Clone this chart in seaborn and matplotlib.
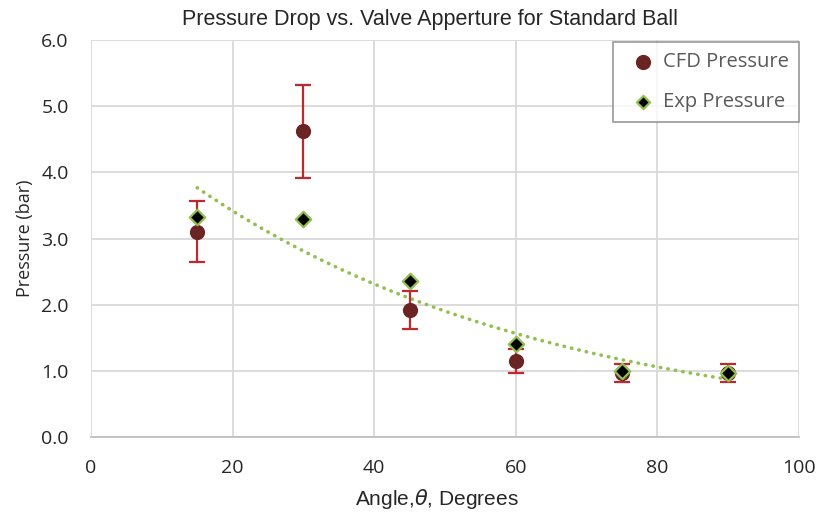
import numpy as np
import pandas as pd
import matplotlib
matplotlib.use("Agg")
import matplotlib.pyplot as plt
import seaborn as sns

angles = [15, 30, 45, 60, 75, 90]
cfd_pressure = [3.10, 4.62, 1.92, 1.15, 0.97, 0.97]
cfd_error = [0.46, 0.70, 0.29, 0.18, 0.14, 0.14]
exp_pressure = [3.32, 3.30, 2.36, 1.41, 1.00, 0.97]
x_ticks = [0, 20, 40, 60, 80, 100]
y_ticks = [0.0, 1.0, 2.0, 3.0, 4.0, 5.0, 6.0]

sns.set_theme(style="white")
plt.rcParams['font.family'] = ['Open Sans', 'DejaVu Sans']

fig = plt.figure(figsize=(8.26, 5.14), dpi=100)
ax = fig.add_axes([91/826, 1-437/514, (799-91)/826, (437-40)/514])

grid_c = "#d9d9d9"
for xv in x_ticks:
    ax.axvline(xv, color=grid_c, lw=1.3, zorder=0)
for yv in y_ticks:
    ax.axhline(yv, color=grid_c, lw=1.3, zorder=0)

# exponential trendline fitted to experimental data
b, ln_a = np.polyfit(angles, np.log(exp_pressure), 1)
xt = np.linspace(min(angles), max(angles), 200)
ax.plot(xt, np.exp(ln_a) * np.exp(b * xt), linestyle=(0, (0.1, 2.0)), color="#92c050",
        lw=2.6, zorder=2, dash_capstyle="round")

ax.errorbar(angles, cfd_pressure, yerr=cfd_error, fmt="none", ecolor="#c0282d",
            elinewidth=1.6, capsize=6, capthick=1.6, zorder=3)

df = pd.DataFrame({"Angle": angles, "CFD Pressure": cfd_pressure, "Exp Pressure": exp_pressure})
sns.scatterplot(data=df, x="Angle", y="CFD Pressure", ax=ax, marker="o", s=120,
                color="#6b2424", edgecolor="#6b2424", linewidth=0, zorder=4,
                label="CFD Pressure")
sns.scatterplot(data=df, x="Angle", y="Exp Pressure", ax=ax, marker="D", s=62,
                color="black", edgecolor="#92c050", linewidth=1.6, zorder=5,
                label="Exp Pressure")

ax.set_xlim(0, 100)
ax.set_ylim(0, 6)
ax.set_xticks(x_ticks)
ax.set_yticks(y_ticks)
ax.set_yticklabels([f"{v:.1f}" for v in y_ticks])
ax.tick_params(axis="both", labelsize=14, colors="#262626", length=0)
ax.tick_params(axis="y", pad=16)
ax.tick_params(axis="x", pad=16)
for s in ax.spines.values():
    s.set_visible(False)
ax.spines["bottom"].set_visible(True)
ax.spines["bottom"].set_color("#bfbfbf")
ax.spines["bottom"].set_linewidth(1.3)

ax.set_title("Pressure Drop vs. Valve Apperture for Standard Ball", fontsize=15.5, pad=11,
             x=(430 - 91) / 708, family=['Liberation Sans', 'DejaVu Sans'], color="#262626")
ax.set_xlabel(r"Angle,$\theta$, Degrees", fontsize=15, labelpad=7, x=(437 - 91) / 708,
              family=['Liberation Sans', 'DejaVu Sans'], color="#262626")
ax.set_ylabel("Pressure (bar)", fontsize=13, labelpad=5, color="#262626")

leg = ax.legend(loc="upper right", bbox_to_anchor=(1.0, 0.995), fontsize=14.5, frameon=True,
                fancybox=False, edgecolor="#7f7f7f", labelcolor="#595959",
                handlelength=2.0, handletextpad=0.0, borderpad=0.5, labelspacing=1.0,
                borderaxespad=0.0)
leg.get_frame().set_linewidth(1.2)
leg.legend_handles[0].set_sizes([120])
leg.legend_handles[1].set_sizes([45])

fig.savefig("out.png", dpi=100)
